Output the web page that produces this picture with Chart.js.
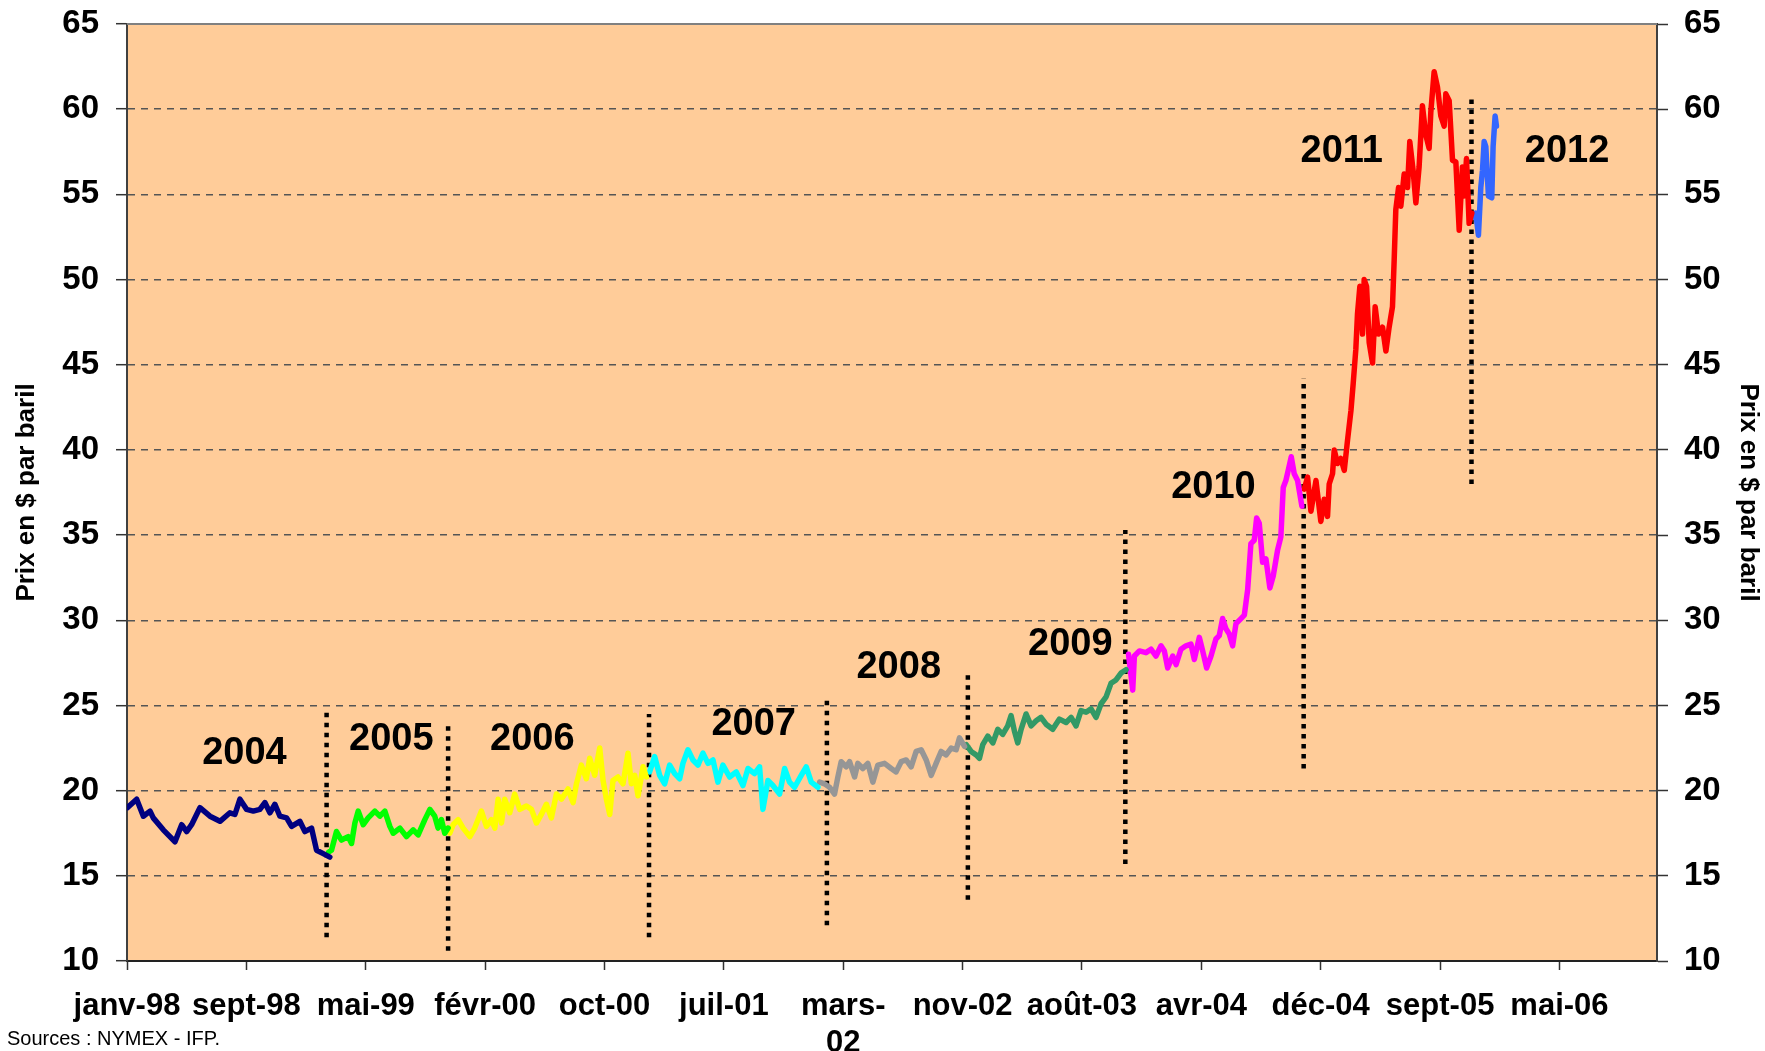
<!DOCTYPE html>
<html>
<head>
<meta charset="utf-8">
<script src="https://cdn.jsdelivr.net/npm/chart.js@4.4.0/dist/chart.umd.min.js"></script>
<style>
  body { margin: 0; background: #fff; }
  canvas { display: block; }
</style>
</head>
<body>
<canvas id="myChart" width="1765" height="1051"></canvas>
<script>
// x values are in axis-tick units (0 = janv-98, 1 = sept-98, ...)
const xTickLabels = ['janv-98', 'sept-98', 'mai-99', 'févr-00', 'oct-00', 'juil-01', ['mars-', '02'],
    'nov-02', 'août-03', 'avr-04', 'déc-04', 'sept-05', 'mai-06'];
const yTicks = [10, 15, 20, 25, 30, 35, 40, 45, 50, 55, 60, 65];
const years = ['2004', '2005', '2006', '2007', '2008', '2009', '2010', '2011', '2012'];

const s2004 = [[0.003,19.0],[0.081,19.5],[0.137,18.5],[0.193,18.8],[0.220,18.4],[0.304,17.7],[0.402,17.0],[0.458,18.0],
    [0.500,17.6],[0.541,18.0],[0.611,19.0],[0.695,18.5],[0.779,18.2],[0.862,18.7],[0.904,18.6],[0.946,19.5],[1.002,18.9],
    [1.058,18.8],[1.113,18.9],[1.155,19.3],[1.197,18.7],[1.239,19.2],[1.281,18.5],[1.337,18.4],[1.379,17.9],[1.448,18.2],
    [1.490,17.6],[1.546,17.8],[1.588,16.5],[1.644,16.3],[1.699,16.1]];
const s2005 = [[1.690,16.4],[1.713,16.5],[1.755,17.6],[1.797,17.1],[1.853,17.3],[1.881,16.9],[1.909,18.1],[1.937,18.8],
    [1.979,18.0],[2.020,18.4],[2.076,18.8],[2.118,18.5],[2.160,18.8],[2.202,17.9],[2.230,17.5],[2.286,17.8],[2.341,17.3],
    [2.397,17.7],[2.439,17.4],[2.495,18.3],[2.537,18.9],[2.578,18.5],[2.606,17.8],[2.634,18.3],[2.662,17.5],[2.690,17.8]];
const s2006 = [[2.690,17.8],[2.704,17.5],[2.732,18.0],[2.774,18.3],[2.816,17.8],[2.872,17.3],[2.913,17.8],[2.969,18.8],
    [3.011,17.9],[3.053,18.3],[3.081,17.8],[3.109,19.5],[3.137,18.1],[3.164,19.5],[3.206,18.7],[3.248,19.8],[3.290,18.9],
    [3.346,19.1],[3.388,18.9],[3.430,18.1],[3.471,18.6],[3.513,19.2],[3.555,18.4],[3.597,19.8],[3.639,19.5],[3.695,20.1],
    [3.737,19.3],[3.765,20.4],[3.806,21.5],[3.848,20.7],[3.876,21.9],[3.918,20.9],[3.960,22.5],[3.988,20.6],[4.016,19.5],
    [4.044,18.6],[4.071,20.6],[4.113,20.8],[4.155,20.4],[4.197,22.2],[4.225,20.4],[4.253,20.9],[4.281,19.7],[4.323,21.4],
    [4.351,20.8]];
const s2007 = [[4.378,21.1],[4.420,22.0],[4.462,20.9],[4.504,20.4],[4.546,21.5],[4.588,21.0],[4.630,20.7],[4.657,21.6],
    [4.699,22.4],[4.741,21.8],[4.783,21.5],[4.825,22.2],[4.867,21.6],[4.909,21.8],[4.950,20.5],[4.992,21.5],[5.048,20.8],
    [5.104,21.1],[5.160,20.3],[5.202,21.3],[5.257,21.0],[5.299,21.4],[5.327,18.9],[5.369,20.6],[5.411,20.3],[5.467,19.8],
    [5.509,21.3],[5.550,20.5],[5.592,20.2],[5.648,20.9],[5.690,21.4],[5.732,20.5],[5.788,20.2]];
const s2008 = [[5.802,20.5],[5.843,20.4],[5.885,20.2],[5.927,19.8],[5.955,20.8],[5.983,21.7],[6.025,21.4],[6.053,21.7],
    [6.095,20.8],[6.122,21.6],[6.164,21.3],[6.206,21.6],[6.248,20.5],[6.290,21.5],[6.346,21.6],[6.402,21.3],[6.443,21.1],
    [6.485,21.7],[6.527,21.8],[6.569,21.4],[6.611,22.3],[6.653,22.4],[6.695,21.8],[6.737,20.9],[6.778,21.6],[6.820,22.3],
    [6.862,22.1],[6.904,22.5],[6.946,22.4],[6.974,23.1],[7.016,22.6]];
const s2009 = [[7.030,22.7],[7.071,22.3],[7.113,22.1],[7.141,21.9],[7.169,22.7],[7.211,23.2],[7.253,22.8],[7.295,23.6],
    [7.336,23.3],[7.378,23.8],[7.406,24.4],[7.434,23.5],[7.462,22.8],[7.490,23.6],[7.532,24.5],[7.574,23.8],[7.616,24.1],
    [7.657,24.3],[7.699,23.9],[7.755,23.6],[7.811,24.2],[7.867,24.0],[7.909,24.3],[7.950,23.8],[7.992,24.7],[8.034,24.6],
    [8.076,24.8],[8.118,24.3],[8.160,25.1],[8.202,25.5],[8.243,26.3],[8.285,26.5],[8.327,26.9],[8.369,27.1]];
const s2010 = [[8.390,28.0],[8.425,25.9],[8.439,27.9],[8.481,28.2],[8.536,28.1],[8.578,28.3],[8.620,27.9],[8.662,28.5],
    [8.690,28.2],[8.718,27.2],[8.760,27.9],[8.788,27.4],[8.829,28.3],[8.871,28.5],[8.913,28.6],[8.941,27.7],[8.983,29.0],
    [9.011,28.2],[9.044,27.2],[9.081,27.9],[9.122,28.9],[9.150,29.1],[9.178,30.1],[9.206,29.5],[9.234,29.2],[9.262,28.5],
    [9.290,29.8],[9.332,30.1],[9.360,30.3],[9.388,31.8],[9.415,34.5],[9.443,34.7],[9.463,36.0],[9.485,35.7],[9.513,33.4],
    [9.541,33.6],[9.574,31.9],[9.602,32.6],[9.638,34.1],[9.666,34.9],[9.686,37.8],[9.708,38.2],[9.731,38.9],[9.753,39.6],
    [9.778,38.6],[9.806,38.2],[9.842,36.7]];
const s2011 = [[9.862,37.7],[9.890,38.4],[9.918,36.4],[9.960,38.2],[10.001,35.8],[10.029,37.1],[10.057,36.1],[10.071,38.0],
    [10.099,38.6],[10.113,40.0],[10.141,39.2],[10.169,39.5],[10.197,38.8],[10.225,40.6],[10.253,42.3],[10.272,43.9],
    [10.294,45.9],[10.308,48.0],[10.328,49.6],[10.350,46.8],[10.364,50.0],[10.384,49.6],[10.406,46.3],[10.434,45.1],
    [10.456,48.4],[10.484,46.8],[10.518,47.2],[10.546,45.8],[10.573,47.2],[10.601,48.4],[10.615,51.1],[10.629,54.1],
    [10.652,55.4],[10.671,54.3],[10.699,56.2],[10.727,55.4],[10.746,58.1],[10.774,56.4],[10.797,54.5],[10.824,56.6],
    [10.852,60.2],[10.880,58.5],[10.908,57.7],[10.922,59.8],[10.950,62.2],[10.978,61.3],[11.006,59.6],[11.034,59.0],
    [11.048,60.9],[11.076,60.5],[11.104,57.0],[11.132,56.9],[11.160,52.9],[11.187,56.6],[11.201,54.9],[11.221,57.1],
    [11.243,53.3],[11.266,53.9]];
const s2012 = [[11.277,53.7],[11.299,53.9],[11.321,52.6],[11.341,55.4],[11.355,56.4],[11.369,58.1],[11.383,57.8],
    [11.405,54.9],[11.433,54.8],[11.444,57.8],[11.461,59.6],[11.472,59.0]];
const series = [s2004, s2005, s2006, s2007, s2008, s2009, s2010, s2011, s2012];

// dotted separators between years
const sepX = [1.672, 2.690, 4.373, 5.863, 7.044, 8.363, 9.857, 11.263];
const sepTop = [24.6, 23.9, 24.5, 25.4, 26.9, 35.3, 44.2, 60.6];
const sepBottom = [11.4, 10.6, 11.4, 12.1, 13.6, 15.7, 21.3, 38.0];

// where the year names sit (data units)
const yearLabelX = [0.984, 2.214, 3.395, 5.25, 6.465, 7.902, 9.101, 10.176, 12.064];
const yearLabelY = [22.2, 23.0, 23.0, 23.9, 27.2, 28.6, 37.8, 57.5, 57.5];

const colors = ['#000080', '#00ff00', '#ffff00', '#00ffff', '#969696', '#339966', '#ff00ff', '#ff0000', '#3366ff'];
const FONT = '"Liberation Sans", Arial, sans-serif';

var datasets = [];
for (var i = 0; i < series.length; i++) {
    datasets.push({
        label: years[i],
        data: series[i],
        borderColor: colors[i],
        borderWidth: 5.5,
        borderJoinStyle: 'round',
        borderCapStyle: 'round',
        pointRadius: 0,
        tension: 0,
        fill: false
    });
}
for (var j = 0; j < sepX.length; j++) {
    datasets.push({
        label: 'sep' + j,
        data: [[sepX[j], sepBottom[j]], [sepX[j], sepTop[j]]],
        borderColor: '#000',
        borderWidth: 4.5,
        borderDash: [4.5, 5.5],
        borderCapStyle: 'butt',
        pointRadius: 0,
        fill: false
    });
}

const decor = {
    id: 'decor',
    beforeDraw(chart) {
        const {ctx, chartArea: a} = chart;
        ctx.save();
        ctx.fillStyle = '#ffcc99';
        ctx.fillRect(a.left, a.top, a.right - a.left, a.bottom - a.top);
        ctx.restore();
    },
    afterDatasetsDraw(chart) {
        const {ctx, chartArea: a} = chart;
        const xs = chart.scales.x, ys = chart.scales.y;
        ctx.save();
        ctx.strokeStyle = '#808080';
        ctx.lineWidth = 2;
        ctx.beginPath();
        ctx.moveTo(a.left, a.top);
        ctx.lineTo(a.right, a.top);
        ctx.stroke();
        ctx.fillStyle = '#000';
        ctx.font = 'bold 38px ' + FONT;
        ctx.textAlign = 'center';
        ctx.textBaseline = 'middle';
        for (var k = 0; k < years.length; k++) {
            ctx.fillText(years[k], xs.getPixelForValue(yearLabelX[k]), ys.getPixelForValue(yearLabelY[k]));
        }
        ctx.restore();
    },
    afterDraw(chart) {
        const ctx = chart.ctx;
        ctx.save();
        ctx.fillStyle = '#000';
        ctx.font = '20px ' + FONT;
        ctx.textAlign = 'left';
        ctx.textBaseline = 'middle';
        ctx.fillText('Sources : NYMEX - IFP.', 7, 1039);
        ctx.restore();
    }
};

// fixed widths, and no extra label padding at the ends of the value axes
function fixY(w) {
    return s => { s.width = w; s.paddingTop = 0; s.paddingBottom = 0; };
}

const ctx = document.getElementById('myChart').getContext('2d');
const myChart = new Chart(ctx, {
    type: 'line',
    data: { datasets: datasets },
    plugins: [decor],
    options: {
        responsive: false,
        devicePixelRatio: 1,
        animation: false,
        layout: { padding: { top: 24, left: 0, right: 0, bottom: 0 } },
        plugins: { legend: { display: false }, tooltip: { enabled: false } },
        scales: {
            x: {
                type: 'linear',
                min: 0,
                max: 12.817,
                afterBuildTicks: s => { s.ticks = xTickLabels.map((_, i) => ({ value: i })); },
                afterFit: s => { s.height = 90; s.paddingLeft = 0; s.paddingRight = 0; },
                ticks: {
                    autoSkip: false, maxRotation: 0, minRotation: 0,
                    padding: 18,
                    color: '#000',
                    font: { family: FONT, size: 31, weight: 'bold', lineHeight: 1.2 },
                    callback: (v, i) => xTickLabels[i]
                },
                grid: { drawOnChartArea: false, drawTicks: true, tickLength: 9, tickColor: '#333', tickWidth: 1.5 },
                border: { color: '#222', width: 2 }
            },
            y: {
                position: 'left',
                min: 10, max: 65,
                afterBuildTicks: s => { s.ticks = yTicks.map(v => ({ value: v })); },
                afterFit: fixY(127),
                ticks: { padding: 17, color: '#000', font: { family: FONT, size: 33, weight: 'bold' } },
                grid: {
                    color: c => (c.tick && (c.tick.value === 10 || c.tick.value === 65)) ? 'rgba(0,0,0,0)' : '#555',
                    lineWidth: 1.4,
                    tickLength: 11, tickColor: '#333', tickWidth: 1.5, tickBorderDash: []
                },
                border: { color: '#404040', width: 2, dash: [7, 6] },
                title: {
                    display: true, text: 'Prix en $ par baril', color: '#000',
                    font: { family: FONT, size: 26, weight: 'bold', lineHeight: 1.2 },
                    padding: { top: 11, bottom: 0 }
                }
            },
            y2: {
                position: 'right',
                min: 10, max: 65,
                afterBuildTicks: s => { s.ticks = yTicks.map(v => ({ value: v })); },
                afterFit: fixY(108),
                ticks: { padding: 16, color: '#000', font: { family: FONT, size: 33, weight: 'bold' } },
                grid: { drawOnChartArea: false, tickLength: 11, tickColor: '#333', tickWidth: 1.5 },
                border: { color: '#404040', width: 2 },
                title: {
                    display: true, text: 'Prix en $ par baril', color: '#000',
                    font: { family: FONT, size: 26, weight: 'bold', lineHeight: 1.2 },
                    padding: { top: 1, bottom: 0 }
                }
            }
        }
    }
});
</script>
</body>
</html>
